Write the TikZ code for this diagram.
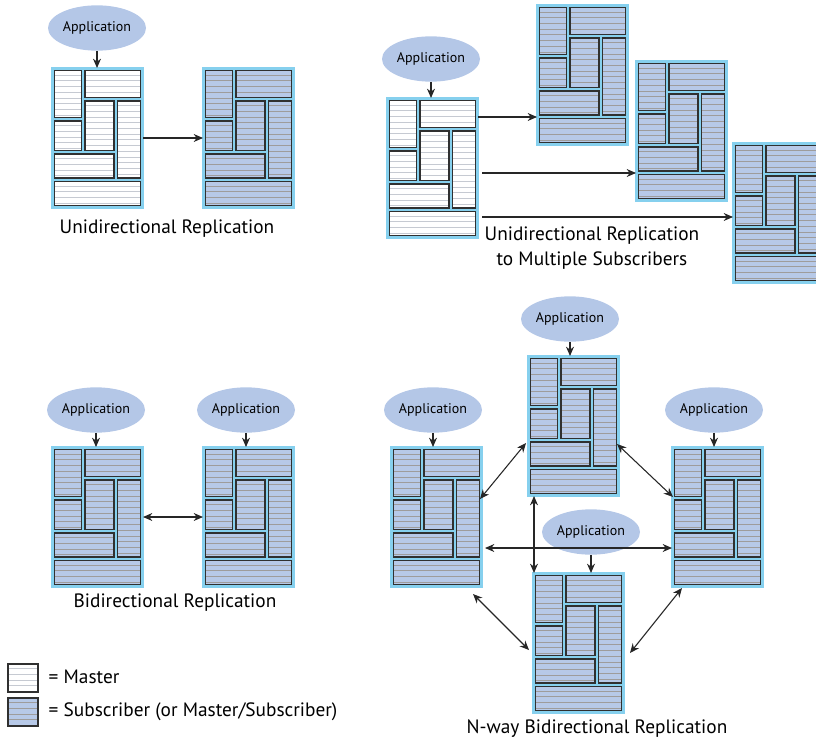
\documentclass[tikz,border=0pt]{standalone}
\usepackage{fontspec}
\setmainfont{PT Sans}
\usetikzlibrary{calc, arrows.meta, shapes.geometric}
\definecolor{framecyan}{HTML}{86D0EE}
\definecolor{subblue}{HTML}{B7C9E8}
\definecolor{appblue}{HTML}{B4C7E7}
\definecolor{stripegray}{HTML}{9E9C9C}
\definecolor{stripelight}{HTML}{C6CAD2}
\definecolor{rectedge}{HTML}{303030}
\tikzset{>={Stealth[length=7pt, width=6pt]}}
\tikzset{
  dbframe/.style={draw=framecyan, fill=framecyan, line width=1.5pt, minimum width=68.25pt, minimum height=105pt, inner sep=0pt, outer sep=0pt},
  dbrect/.style={draw=rectedge, line width=1.1pt, path picture={
      \foreach \k in {1,...,26}
        \draw[#1, line width=0.5pt] ([yshift=-\k*4.3pt+1pt]path picture bounding box.north west) -- ([yshift=-\k*4.3pt+1pt]path picture bounding box.north east);}},
  master/.style={dbrect=stripelight, fill=white},
  subscriber/.style={dbrect=stripegray, fill=subblue},
  app/.style={ellipse, fill=appblue, inner sep=0pt, minimum width=73.5pt, minimum height=34pt, font=\fontsize{10.5}{12}\selectfont},
  caption/.style={font=\fontsize{14.5}{18.5}\selectfont, align=center},
  conn/.style={line width=0.8pt, black!85}
}
% one database: name, x, y, style
\newcommand{\dbblock}[4]{%
  \node[dbframe, anchor=north west] (#1) at (#2,#3) {};
  \begin{scope}[shift={(#2,#3)}]
    \draw[#4] (2.5,2.5) rectangle (29.5,49.5);
    \draw[#4] (33,2.5) rectangle (88.5,29.5);
    \draw[#4] (2.5,53) rectangle (29.5,82.5);
    \draw[#4] (33,33) rectangle (62,82.5);
    \draw[#4] (65.5,33) rectangle (88.5,110);
    \draw[#4] (2.5,86) rectangle (62,110);
    \draw[#4] (2.5,113.5) rectangle (88.5,137.5);
  \end{scope}}

\begin{document}
\begin{tikzpicture}[x=0.75pt, y=-0.75pt]
\useasboundingbox (0,0) rectangle (816,742);
\clip (0,0) rectangle (816,742);

% unidirectional
\dbblock{um}{52}{68}{master}
\dbblock{us}{203}{68}{subscriber}
\node[app] (uapp) at (97,28) {Application};
\draw[conn, ->] (uapp.south) -- (uapp.south |- um.north);
\draw[conn, ->] (um) -- (us);
\node[caption] (ucap) at (167,229) {Unidirectional Replication};

% unidirectional to multiple subscribers
\dbblock{mm}{387}{98}{master}
\dbblock{ms1}{537}{5}{subscriber}
\dbblock{ms2}{636}{61}{subscriber}
\dbblock{ms3}{733}{143}{subscriber}
\node[app] (mapp) at (431,59) {Application};
\draw[conn, ->] (mapp.south) -- (mapp.south |- mm.north);
\coordinate (a1) at ($(mm.north east)+(0,19)$);
\coordinate (a2) at ($(mm.north east)+(4,75)$);
\coordinate (a3) at ($(mm.north east)+(4,119)$);
\draw[conn, ->] (a1) -- (a1 -| ms1.west);
\draw[conn, ->] (a2) -- (a2 -| ms2.west);
\draw[conn, ->] (a3) -- (a3 -| ms3.west);
\node[caption] (mcap) at (592,248) {Unidirectional Replication\\to Multiple Subscribers};

% bidirectional
\dbblock{bl}{52}{447}{subscriber}
\dbblock{br}{203}{447}{subscriber}
\node[app] (blapp) at (96,410) {Application};
\node[app] (brapp) at (246,410) {Application};
\draw[conn, ->] (blapp.south) -- (blapp.south |- bl.north);
\draw[conn, ->] (brapp.south) -- (brapp.south |- br.north);
\draw[conn, <->] (bl) -- (br);
\node[caption] (bcap) at (175,603) {Bidirectional Replication};

% n-way
\dbblock{nt}{528}{356}{subscriber}
\dbblock{nl}{391}{447}{subscriber}
\dbblock{nr}{672}{447}{subscriber}
\dbblock{nb}{533}{573}{subscriber}
\node[app] (ntapp) at (570,319) {Application};
\node[app] (nlapp) at (433,410) {Application};
\node[app] (nrapp) at (714,410) {Application};
\node[app] (nbapp) at (591,532) {Application};
\draw[conn, ->] (ntapp.south) -- (ntapp.south |- nt.north);
\draw[conn, ->] (nlapp.south) -- (nlapp.south |- nl.north);
\draw[conn, ->] (nrapp.south) -- (nrapp.south |- nr.north);
\draw[conn, ->] (nbapp.south) -- (nbapp.south |- nb.north);
\coordinate (h1) at ($(nl.north east)+(3,101)$);
\coordinate (v1) at ($(nt.south west)+(6,0)$);
\draw[conn, <->] (h1) -- (h1 -| nr.west);
\draw[conn, <->] (v1) -- (v1 |- nb.north);
\draw[conn, <->] ($(nl.north east)+(-2,52)$) -- ($(nt.north west)+(-2,87)$);
\draw[conn, <->] ($(nt.north east)+(-2,88)$) -- ($(nr.north west)+(1,50)$);
\draw[conn, <->] ($(nl.south east)+(-9,7)$) -- ($(nb.north west)+(-4,77)$);
\draw[conn, <->] ($(nr.south west)+(10,1)$) -- ($(nb.north east)+(6,80)$);
\node[caption] (ncap) at (597,729) {N-way Bidirectional Replication};

% legend
\draw[master] (8,664) rectangle (38,692);
\draw[subscriber] (8,698) rectangle (38,726);
\node[caption, anchor=west] (lmaster) at (44,677) {= Master};
\node[caption, anchor=west] (lsub) at (44,712) {= Subscriber (or Master/Subscriber)};
\end{tikzpicture}
\end{document}
